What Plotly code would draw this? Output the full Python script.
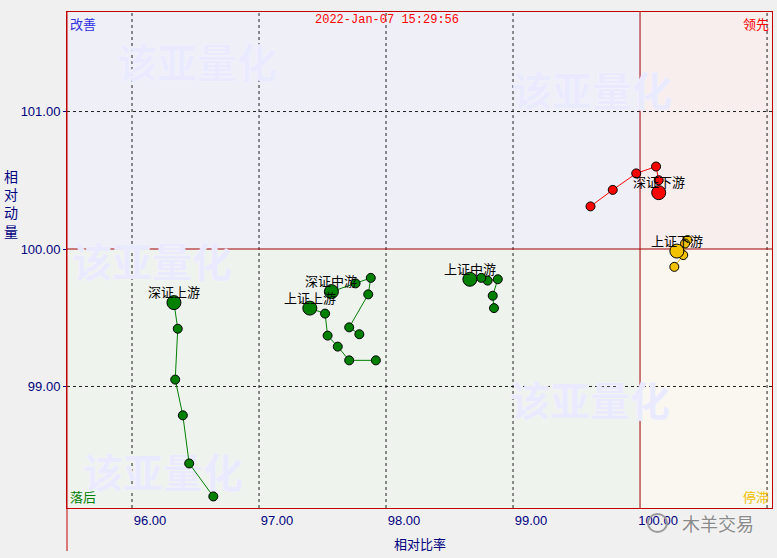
import plotly.graph_objects as go

# ---------------- data ----------------
SZ_UP_NAME = "深证上游"
SZ_UP_X = [96.64, 96.45, 96.40, 96.34, 96.36, 96.33]
SZ_UP_Y = [98.20, 98.44, 98.79, 99.05, 99.42, 99.61]

SH_UP_NAME = "上证上游"
SH_UP_X = [97.92, 97.71, 97.62, 97.54, 97.52, 97.40]
SH_UP_Y = [99.19, 99.19, 99.29, 99.37, 99.53, 99.57]

SZ_MID_NAME = "深证中游"
SZ_MID_X = [97.79, 97.71, 97.86, 97.88, 97.76, 97.57]
SZ_MID_Y = [99.38, 99.43, 99.67, 99.79, 99.75, 99.69]

SH_MID_NAME = "上证中游"
SH_MID_X = [98.85, 98.84, 98.88, 98.80, 98.75, 98.66]
SH_MID_Y = [99.57, 99.66, 99.78, 99.77, 99.79, 99.78]

SZ_DOWN_NAME = "深证下游"
SZ_DOWN_X = [99.61, 99.785, 99.97, 100.126, 100.147, 100.147]
SZ_DOWN_Y = [100.31, 100.43, 100.55, 100.60, 100.50, 100.41]

SH_DOWN_NAME = "上证下游"
SH_DOWN_X = [100.27, 100.34, 100.374, 100.354, 100.29]
SH_DOWN_Y = [99.87, 99.956, 100.065, 100.04, 99.985]

X_TICKS = [96, 97, 98, 99, 100]
Y_TICKS = [99, 100, 101]
GRID_X = [96, 97, 98, 99, 101]
GRID_Y = [99, 101]
CENTER_X = 100
CENTER_Y = 100
X_RANGE = [95.488, 101.039]
Y_RANGE = [98.116, 101.724]

TITLE = "2022-Jan-07 15:29:56"
QUAD_LABELS = ["改善", "领先", "落后", "停滞"]
X_TITLE = "相对比率"
Y_TITLE = "相对动量"
WATERMARK = "该亚量化"

GREEN = "#008000"
RED = "#ff0000"
GOLD = "#f2c200"
NAVY = "#000080"
BORDER = "#c00000"

series = [
    (SZ_UP_NAME, SZ_UP_X, SZ_UP_Y, GREEN, GREEN),
    (SH_UP_NAME, SH_UP_X, SH_UP_Y, GREEN, GREEN),
    (SZ_MID_NAME, SZ_MID_X, SZ_MID_Y, GREEN, GREEN),
    (SH_MID_NAME, SH_MID_X, SH_MID_Y, GREEN, GREEN),
    (SZ_DOWN_NAME, SZ_DOWN_X, SZ_DOWN_Y, RED, RED),
    (SH_DOWN_NAME, SH_DOWN_X, SH_DOWN_Y, GOLD, "#e0b000"),
]

fig = go.Figure()

# quadrant backgrounds
quads = [
    (X_RANGE[0], CENTER_X, CENTER_Y, Y_RANGE[1], "#efeff8"),
    (CENTER_X, X_RANGE[1], CENTER_Y, Y_RANGE[1], "#f8eeee"),
    (X_RANGE[0], CENTER_X, Y_RANGE[0], CENTER_Y, "#eef3ee"),
    (CENTER_X, X_RANGE[1], Y_RANGE[0], CENTER_Y, "#f9f7f0"),
]
for x0, x1, y0, y1, c in quads:
    fig.add_shape(type="rect", xref="x", yref="y", x0=x0, x1=x1, y0=y0, y1=y1,
                  fillcolor=c, line=dict(width=0), layer="below")

# pixel -> paper / data helpers
PL, PR, PT, PB = 67, 772, 12, 508
def px(x):
    return (x - PL) / (PR - PL)
def py(y):
    return (PB - y) / (PB - PT)
def dx(x):
    return X_RANGE[0] + px(x) * (X_RANGE[1] - X_RANGE[0])
def dy(y):
    return Y_RANGE[0] + py(y) * (Y_RANGE[1] - Y_RANGE[0])

def note(x, y, text, size, color, family="Noto Sans CJK SC", xa="center", ya="middle", **kw):
    fig.add_annotation(xref="paper", yref="paper", x=x, y=y, text=text, showarrow=False,
                       xanchor=xa, yanchor=ya, font=dict(size=size, color=color, family=family, **kw))

# watermarks as a text trace (drawn beneath the data traces)
wm_pos = [(197, 68), (592, 96), (152, 267), (590, 406), (163, 478)]
fig.add_trace(go.Scatter(x=[dx(a) for a, b in wm_pos], y=[dy(b) for a, b in wm_pos],
                         mode="text", text=[WATERMARK] * len(wm_pos), textposition="middle center",
                         textfont=dict(size=40, color="rgba(234,234,255,1)", family="Noto Sans CJK SC",
                                       weight="bold", shadow="0px 0px 1px white"),
                         showlegend=False, hoverinfo="skip"))

# dashed grid
for gx in GRID_X:
    fig.add_shape(type="line", xref="x", yref="y", x0=gx, x1=gx, y0=Y_RANGE[0], y1=Y_RANGE[1],
                  line=dict(color="#202020", width=1, dash="3px,3px"), layer="between")
for gy in GRID_Y:
    fig.add_shape(type="line", xref="x", yref="y", x0=X_RANGE[0], x1=X_RANGE[1], y0=gy, y1=gy,
                  line=dict(color="#202020", width=1, dash="3px,3px"), layer="between")
# center lines
fig.add_shape(type="line", xref="x", yref="y", x0=CENTER_X, x1=CENTER_X, y0=Y_RANGE[0], y1=Y_RANGE[1],
              line=dict(color="#a00000", width=1), layer="between")
fig.add_shape(type="line", xref="x", yref="y", x0=X_RANGE[0], x1=X_RANGE[1], y0=CENTER_Y, y1=CENTER_Y,
              line=dict(color="#a00000", width=1), layer="between")
# left border extension
fig.add_shape(type="line", xref="paper", yref="paper", x0=0, x1=0, y0=py(551), y1=1,
              line=dict(color=BORDER, width=1), layer="above")

for name, xs, ys, fill, lc in series:
    sizes = [9] * (len(xs) - 1) + [14]
    fig.add_trace(go.Scatter(x=xs, y=ys, mode="lines+markers",
                             line=dict(color=lc, width=1),
                             marker=dict(size=sizes, color=fill, line=dict(color="black", width=1), opacity=1),
                             showlegend=False, hoverinfo="skip"))
    fig.add_annotation(x=xs[-1], y=ys[-1], text=name, showarrow=False, yshift=11,
                       xanchor="center", yanchor="middle",
                       font=dict(size=13, color="black", family="Noto Sans CJK SC"))

# title
note(px(387), py(20), TITLE, 12, RED, family="Liberation Mono")
# quadrant labels
note(0.002, 1, QUAD_LABELS[0], 13, "#3030dd", xa="left", ya="top")
note(0.998, 1, QUAD_LABELS[1], 13, RED, xa="right", ya="top")
note(0.002, 0, QUAD_LABELS[2], 13, GREEN, xa="left", ya="bottom")
note(0.998, 0, QUAD_LABELS[3], 13, "#f0c000", xa="right", ya="bottom")
# axis titles
note(px(420), py(543), X_TITLE, 13, NAVY)
note(px(11), py(203), "<br>".join(Y_TITLE), 14, NAVY)
# wechat mark
note(px(718), py(523), "木羊交易", 18, "#8a8a8a", shadow="0px 0px 2px white")
fig.add_shape(type="circle", xref="paper", yref="paper", x0=px(648), x1=px(667), y0=py(532), y1=py(514),
              line=dict(color="#9a9a9a", width=2), layer="above")

fig.update_layout(
    width=777, height=558,
    margin=dict(l=PL, r=777 - PR, t=PT, b=558 - PB),
    paper_bgcolor="#f0f0f0", plot_bgcolor="#f0f0f0",
    font=dict(family="Liberation Sans, Noto Sans CJK SC", color=NAVY, size=13),
    xaxis=dict(range=X_RANGE, tickvals=X_TICKS, ticktext=[f"{v:.2f}" for v in X_TICKS],
               showgrid=False, zeroline=False, showline=True, mirror=True, linecolor=BORDER,
               ticks="", ticklabelshift=18, tickfont=dict(size=13, color=NAVY)),
    yaxis=dict(range=Y_RANGE, tickvals=Y_TICKS, ticktext=[f"{v:.2f}" for v in Y_TICKS],
               showgrid=False, zeroline=False, showline=True, mirror=True, linecolor=BORDER,
               ticks="outside", ticklen=3, tickcolor=NAVY, tickfont=dict(size=13, color=NAVY)),
)

fig.write_html("out.html")
